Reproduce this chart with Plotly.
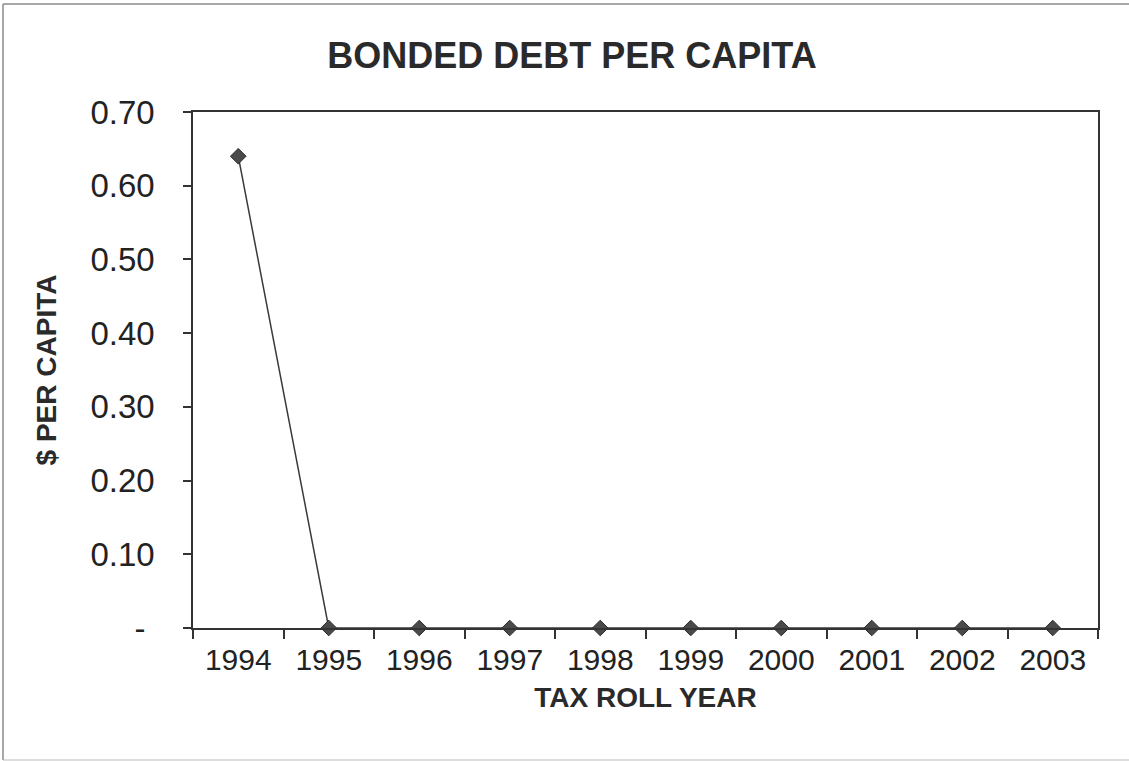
import plotly.graph_objects as go

years = ["1994", "1995", "1996", "1997", "1998", "1999", "2000", "2001", "2002", "2003"]
debt_per_capita = [0.64, 0, 0, 0, 0, 0, 0, 0, 0, 0]
y_tickvals = [0, 0.1, 0.2, 0.3, 0.4, 0.5, 0.6, 0.7]
y_ticktext = ["-\u00a0", "0.10", "0.20", "0.30", "0.40", "0.50", "0.60", "0.70"]

W, H = 1129, 761
L, R, T, B = 193, 31, 112, 133
pw, ph = W - L - R, H - T - B

fig = go.Figure()
fig.add_trace(go.Scatter(
    x=years, y=debt_per_capita, mode="lines+markers",
    line=dict(color="#3a3a3a", width=1.5),
    marker=dict(symbol="diamond", size=12, color="#4a4a4a",
                line=dict(color="#2a2a2a", width=1)),
    cliponaxis=False, showlegend=False,
))

fig.update_layout(
    width=W, height=H,
    margin=dict(l=L, r=R, t=T, b=B),
    paper_bgcolor="white", plot_bgcolor="white",
    font=dict(family="Liberation Sans, Arial, sans-serif", color="#222222"),
    title=dict(text="<b>BONDED DEBT PER CAPITA</b>", x=(572) / W, xanchor="center",
               y=1 - 55 / H, yanchor="middle",
               font=dict(size=36, color="#2a2a2a")),
    xaxis=dict(
        type="category", tickson="boundaries", ticks="outside", ticklen=9,
        range=[-0.5, 9.5],
        tickcolor="#333", tickwidth=1.5,
        showline=True, linecolor="#333", linewidth=1.5, mirror=True,
        showgrid=False, zeroline=False,
        tickfont=dict(size=30, color="#222"),
        ticklabelstandoff=4,
        title=dict(text="<b>TAX ROLL YEAR</b>", font=dict(size=28, color="#2a2a2a"),
                   standoff=13),
    ),
    yaxis=dict(
        range=[0, 0.7], tickvals=y_tickvals, ticktext=y_ticktext,
        ticks="outside", ticklen=8, tickcolor="#333", tickwidth=1.5,
        showline=True, linecolor="#333", linewidth=1.5, mirror=True,
        showgrid=False, zeroline=False,
        tickfont=dict(size=33, color="#222"),
        ticklabelstandoff=22,
        title=dict(text="<b>$ PER CAPITA</b>", font=dict(size=28, color="#2a2a2a"),
                   standoff=26),
    ),
)

# outer chart border (left, top, bottom edges)
border = dict(color="#8a8a8a", width=1.5)
x_left, x_right = (3 - L) / pw, (W + 40 - L) / pw
y_top, y_bot = (H - 4 - B) / ph, (H - 760 - B) / ph
fig.add_shape(type="line", xref="paper", yref="paper", x0=x_left, x1=x_left,
              y0=y_bot, y1=y_top, line=border, layer="below")
fig.add_shape(type="line", xref="paper", yref="paper", x0=x_left, x1=x_right,
              y0=y_top, y1=y_top, line=border, layer="below")
fig.add_shape(type="line", xref="paper", yref="paper", x0=x_left, x1=x_right,
              y0=y_bot, y1=y_bot, line=dict(color="#bbbbbb", width=1), layer="below")

fig.write_html("out.html")
